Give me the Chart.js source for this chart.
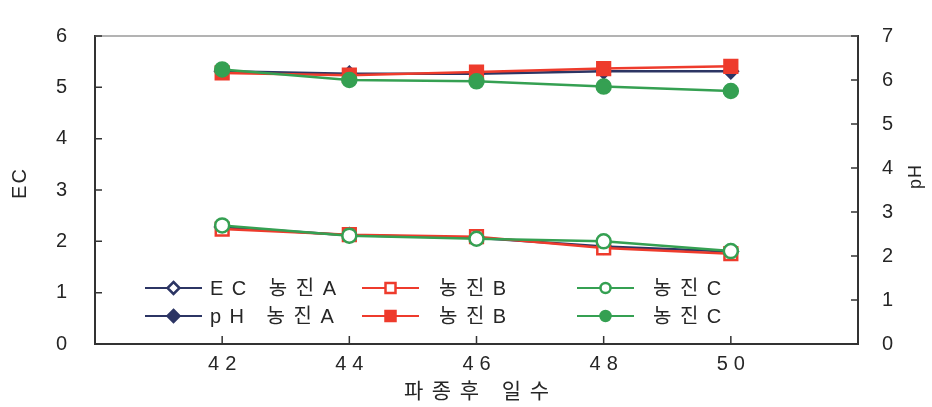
<!DOCTYPE html>
<html>
<head>
<meta charset="utf-8">
<script src="https://cdn.jsdelivr.net/npm/chart.js@4/dist/chart.umd.min.js"></script>
<style>
  html, body { margin: 0; padding: 0; background: #fff; }
  #wrap { width: 932px; height: 407px; }
</style>
</head>
<body>
<div id="wrap"><canvas id="ecChart"></canvas></div>
<script>
// days after sowing
const days = [42, 44, 46, 48, 50];

// EC (left axis)
const ecA = [2.28, 2.12, 2.07, 1.90, 1.80];
const ecB = [2.24, 2.13, 2.09, 1.87, 1.76];
const ecC = [2.31, 2.11, 2.05, 2.00, 1.81];

// pH (right axis)
const phA = [6.20, 6.14, 6.14, 6.20, 6.20];
const phB = [6.16, 6.11, 6.18, 6.26, 6.31];
const phC = [6.24, 6.00, 5.97, 5.85, 5.75];

const legendLabels = ['EC 농진A', '농진B', '농진C', 'pH 농진A', '농진B', '농진C'];
const ecTicks = [0, 1, 2, 3, 4, 5, 6];
const phTicks = [0, 1, 2, 3, 4, 5, 6, 7];

const NAVY = '#2c3564';
const RED = '#ee3b2c';
const GREEN = '#35a052';
const AXIS = '#333333';
const TEXT = '#262626';
const FONT = '"Liberation Sans", "Noto Sans CJK KR", Arial, sans-serif';

function pts(values) {
    return values.map((v, i) => ({ x: days[i], y: v }));
}

function series(label, values, color, style, filled, axis, order, radius) {
    return {
        label: label,
        data: pts(values),
        yAxisID: axis,
        borderColor: color,
        backgroundColor: filled ? color : '#ffffff',
        pointBackgroundColor: filled ? color : '#ffffff',
        pointBorderColor: color,
        pointBorderWidth: 2.5,
        pointStyle: style,
        pointRadius: radius,
        borderWidth: 2.5,
        tension: 0,
        order: order,
        _filled: filled
    };
}

const datasets = [
    series(legendLabels[0], ecA, NAVY, 'rectRot', false, 'y', 3, 7),
    series(legendLabels[1], ecB, RED, 'rect', false, 'y', 2, 9),
    series(legendLabels[2], ecC, GREEN, 'circle', false, 'y', 1, 7),
    series(legendLabels[3], phA, NAVY, 'rectRot', true, 'y2', 3, 7),
    series(legendLabels[4], phB, RED, 'rect', true, 'y2', 2, 9),
    series(legendLabels[5], phC, GREEN, 'circle', true, 'y2', 1, 7)
];

function spacedText(ctx, text, x, y, ls, align) {
    ctx.letterSpacing = '0px';
    const w = ctx.measureText(text).width + ls * (text.length - 1);
    ctx.letterSpacing = ls + 'px';
    ctx.textAlign = 'left';
    let sx = x;
    if (align === 'center') sx = x - w / 2;
    ctx.fillText(text, sx, y);
    ctx.letterSpacing = '0px';
}

function marker(ctx, style, x, y, r) {
    ctx.beginPath();
    if (style === 'circle') {
        ctx.arc(x, y, r, 0, Math.PI * 2);
    } else if (style === 'rect') {
        ctx.rect(x - r, y - r, r * 2, r * 2);
    } else {
        ctx.moveTo(x, y - r);
        ctx.lineTo(x + r, y);
        ctx.lineTo(x, y + r);
        ctx.lineTo(x - r, y);
        ctx.closePath();
    }
    ctx.fill();
    ctx.stroke();
}

// inner tick marks, top frame line, axis titles and the two-row legend
const decorations = {
    id: 'decorations',
    beforeDraw(chart) {
        chart.ctx.letterSpacing = '6px';
    },
    afterDraw(chart) {
        const ctx = chart.ctx;
        const a = chart.chartArea;
        ctx.save();
        ctx.letterSpacing = '0px';

        // top frame
        ctx.strokeStyle = '#9a9a9a';
        ctx.lineWidth = 1.5;
        ctx.beginPath();
        ctx.moveTo(a.left, a.top);
        ctx.lineTo(a.right, a.top);
        ctx.stroke();

        // tick marks pointing into the plot
        ctx.strokeStyle = AXIS;
        ctx.lineWidth = 1.5;
        ctx.beginPath();
        chart.scales.x.ticks.forEach(t => {
            const px = chart.scales.x.getPixelForValue(t.value);
            ctx.moveTo(px, a.bottom);
            ctx.lineTo(px, a.bottom - 8);
        });
        chart.scales.y.ticks.forEach(t => {
            const py = chart.scales.y.getPixelForValue(t.value);
            ctx.moveTo(a.left, py);
            ctx.lineTo(a.left + 7, py);
        });
        chart.scales.y2.ticks.forEach(t => {
            const py = chart.scales.y2.getPixelForValue(t.value);
            ctx.moveTo(a.right, py);
            ctx.lineTo(a.right - 7, py);
        });
        ctx.stroke();

        // axis titles
        ctx.fillStyle = TEXT;
        ctx.textBaseline = 'middle';
        ctx.font = '21px ' + FONT;
        spacedText(ctx, '파종후 일수', (a.left + a.right) / 2, 392, 8.5, 'center');

        ctx.font = '20px ' + FONT;
        ctx.save();
        ctx.translate(20, 184);
        ctx.rotate(-Math.PI / 2);
        spacedText(ctx, 'EC', 0, 0, 2, 'center');
        ctx.restore();

        ctx.save();
        ctx.translate(916, 177);
        ctx.rotate(-Math.PI / 2);
        ctx.font = '18px ' + FONT;
        spacedText(ctx, 'pH', 0, 0, 1, 'center');
        ctx.restore();

        // legend
        const colX = [145, 362, 577];
        const textGap = [8, 20, 19];
        const rowY = [288, 316];
        const lineLen = 57;
        ctx.font = '20px ' + FONT;
        chart.data.datasets.forEach((ds, i) => {
            const col = i % 3;
            const row = Math.floor(i / 3);
            const x0 = colX[col];
            const y = rowY[row];
            ctx.strokeStyle = ds.borderColor;
            ctx.lineWidth = 2;
            ctx.beginPath();
            ctx.moveTo(x0, y);
            ctx.lineTo(x0 + lineLen, y);
            ctx.stroke();
            ctx.fillStyle = ds._filled ? ds.borderColor : '#ffffff';
            ctx.lineWidth = 2.5;
            const r = ds.pointStyle === 'rectRot' ? 6 : 5;
            marker(ctx, ds.pointStyle, x0 + lineLen / 2, y, r);
            ctx.fillStyle = TEXT;
            spacedText(ctx, ds.label, x0 + lineLen + textGap[col], y + 1, 8.5, 'left');
        });
        ctx.restore();
    }
};

new Chart(document.getElementById('ecChart'), {
    type: 'line',
    data: { datasets: datasets },
    options: {
        responsive: true,
        maintainAspectRatio: false,
        animation: false,
        layout: { padding: { top: 20, left: 0, right: 0, bottom: 0 } },
        plugins: {
            legend: { display: false },
            tooltip: { enabled: false }
        },
        scales: {
            x: {
                type: 'linear',
                min: 40,
                max: 52,
                afterBuildTicks: s => { s.ticks = days.map(v => ({ value: v })); },
                afterFit: s => { s.height = 63; },
                grid: { display: false, drawTicks: false },
                border: { display: true, color: AXIS, width: 2 },
                ticks: { color: TEXT, font: { family: FONT, size: 20 }, padding: 8, labelOffset: 3, maxRotation: 0 }
            },
            y: {
                position: 'left',
                min: 0,
                max: 6,
                afterBuildTicks: s => { s.ticks = ecTicks.map(v => ({ value: v })); },
                afterFit: s => { s.width = 95; },
                grid: { display: false, drawTicks: false },
                border: { display: true, color: AXIS, width: 2 },
                ticks: { color: TEXT, font: { family: FONT, size: 20 }, padding: 22 }
            },
            y2: {
                position: 'right',
                min: 0,
                max: 7,
                afterBuildTicks: s => { s.ticks = phTicks.map(v => ({ value: v })); },
                afterFit: s => { s.width = 74; },
                grid: { display: false, drawTicks: false },
                border: { display: true, color: AXIS, width: 2 },
                ticks: { color: TEXT, font: { family: FONT, size: 20 }, padding: 24 }
            }
        }
    },
    plugins: [decorations]
});
</script>
</body>
</html>
